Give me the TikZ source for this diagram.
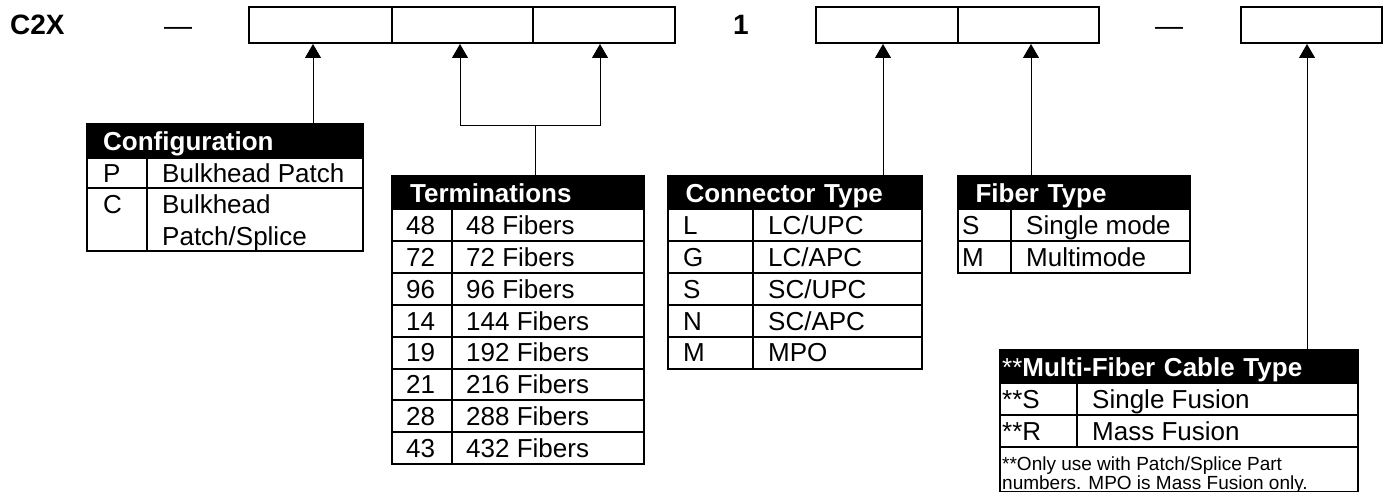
\documentclass[tikz,border=0pt]{standalone}
\usepackage{fontspec}
\setmainfont{Liberation Sans}
\usetikzlibrary{arrows.meta}

\tikzset{
	x=1pt, y=-1pt,
	cell/.style={draw, line width=2pt, minimum height=36pt, inner sep=0pt},
	grid/.style={line width=2pt},
	thinline/.style={line width=1pt},
	pointer/.style={line width=1pt, -{Triangle[width=16pt,length=14pt]}},
	hdr/.style={fill=black, text=white, anchor=north west, inner ysep=0pt, text height=19pt, text depth=0pt, align=left, font=\fontsize{26}{31}\selectfont\bfseries},
	txt/.style={anchor=base west, inner sep=0pt, font=\fontsize{26}{31}\selectfont},
	big/.style={anchor=base west, inner sep=0pt, font=\fontsize{28}{32}\selectfont},
	note/.style={anchor=base west, inner sep=0pt, font=\fontsize{19}{20}\selectfont},
}

\begin{document}
\begin{tikzpicture}
	\useasboundingbox (0,0) rectangle (1389,492);
	
	% part number line
	\node[big, font=\fontsize{28}{32}\selectfont\bfseries] (pfx) at (10,35) {C2X};
	\node[big] (dsha) at (164,36) {\textemdash};
	\node[big, font=\fontsize{28}{32}\selectfont\bfseries] (one) at (733,35) {1};
	\node[big] (dshb) at (1155,36) {\textemdash};
	
	\node[cell, minimum width=143pt] (t1) at (320.5,25) {};
	\node[cell, minimum width=141pt] (t2) at (462.5,25) {};
	\node[cell, minimum width=142pt] (t3) at (604,25) {};
	\node[cell, minimum width=142pt] (t4) at (887,25) {};
	\node[cell, minimum width=141pt] (t5) at (1028.5,25) {};
	\node[cell, minimum width=141pt] (t6) at (1311.5,25) {};
	
	% configuration
	\node[hdr, minimum height=34pt, inner xsep=16pt, text width=244pt] (cfg) at (87,124) {Configuration};
	\draw[grid] (87,158) -- (363,158) (87,188) -- (363,188) (147,158) -- (147,251);
	\draw[grid] (87,124) rectangle (363,251);
	\node[txt] (cfgp) at (103,182.3) {P};
	\node[txt] (cfgpv) at (162,182.3) {Bulkhead Patch};
	\node[txt] (cfgc) at (103,213) {C};
	\node[txt] (cfgcv) at (162,213) {Bulkhead};
	\node[txt] (cfgcw) at (162,245) {Patch/Splice};
	
	% terminations
	\node[hdr, minimum height=33.3pt, inner xsep=18pt, text width=216pt] (trm) at (392,176) {Terminations};
	\foreach \i in {0,...,7}
		\draw[grid] (392,{209.3+31.84*\i}) -- (644,{209.3+31.84*\i});
	\draw[grid] (452,209.3) -- (452,464);
	\draw[grid] (392,176) rectangle (644,464);
	\foreach \k/\v [count=\i] in {48/48 Fibers,72/72 Fibers,96/96 Fibers,14/144 Fibers,19/192 Fibers,21/216 Fibers,28/288 Fibers,43/432 Fibers}{
		\node[txt] (trmk\i) at (406,{202.7+31.84*\i}) {\k};
		\node[txt] (trmv\i) at (466,{202.7+31.84*\i}) {\v};
	}
	
	% connector type
	\node[hdr, minimum height=33.3pt, inner xsep=17pt, text width=219.4pt] (con) at (668.3,176) {Connector Type};
	\foreach \i in {0,...,4}
		\draw[grid] (668.3,{209.3+31.84*\i}) -- (921.7,{209.3+31.84*\i});
	\draw[grid] (753.3,209.3) -- (753.3,368.5);
	\draw[grid] (668.3,176) rectangle (921.7,368.5);
	\foreach \k/\v [count=\i] in {L/{LC/UPC},G/{LC/APC},S/{SC/UPC},N/{SC/APC},M/MPO}{
		\node[txt] (conk\i) at (683,{202.7+31.84*\i}) {\k};
		\node[txt] (conv\i) at (768,{202.7+31.84*\i}) {\v};
	}
	
	% fiber type
	\node[hdr, minimum height=33.3pt, inner xsep=17pt, text width=197.7pt] (fib) at (958.3,176) {Fiber Type};
	\draw[grid] (958.3,209.3) -- (1190,209.3) (958.3,241) -- (1190,241) (1010.7,209.3) -- (1010.7,272.7);
	\draw[grid] (958.3,176) rectangle (1190,272.7);
	\node[txt] (fibs) at (962,234.5) {S};
	\node[txt] (fibsv) at (1026,234.5) {Single mode};
	\node[txt] (fibm) at (962,266.4) {M};
	\node[txt] (fibmv) at (1026,266.4) {Multimode};
	
	% multi-fiber cable type
	\node[hdr, minimum height=33.3pt, inner xsep=2pt, text width=354.3pt] (mfc) at (1000,350) {{\mdseries **}Multi-Fiber Cable Type};
	\draw[grid] (1000,383.3) -- (1358.3,383.3) (1000,415) -- (1358.3,415) (1000,446.7) -- (1358.3,446.7) (1076.7,383.3) -- (1076.7,446.7);
	\draw[grid] (1000,350) rectangle (1358.3,491.7);
	\node[txt] (mfcs) at (1002,408.5) {**S};
	\node[txt] (mfcsv) at (1092,408.5) {Single Fusion};
	\node[txt] (mfcr) at (1002,440.2) {**R};
	\node[txt] (mfcrv) at (1092,440.2) {Mass Fusion};
	\node[note] (mfcn) at (1002,470.5) {**Only use with Patch/Splice Part};
	\node[note] (mfcm) at (1002,489.5) {numbers. MPO is Mass Fusion only.};
	
	% pointers
	\coordinate (cfgin) at (313,124);
	\coordinate (trmin) at (535,176);
	\coordinate (brl) at (460,126);
	\coordinate (brr) at (600,126);
	\coordinate (conin) at (883,176);
	\coordinate (fibin) at (1031,176);
	\coordinate (mfcin) at (1307,350);
	
	\draw[pointer] (cfgin) -- (cfgin |- t1.south);
	\draw[thinline] (trmin) -- (trmin |- brl);
	\draw[thinline] (brl) -- (brr);
	\draw[pointer] (brl) -- (brl |- t2.south);
	\draw[pointer] (brr) -- (brr |- t3.south);
	\draw[pointer] (conin) -- (conin |- t4.south);
	\draw[pointer] (fibin) -- (fibin |- t5.south);
	\draw[pointer] (mfcin) -- (mfcin |- t6.south);
	
\end{tikzpicture}
\end{document}
